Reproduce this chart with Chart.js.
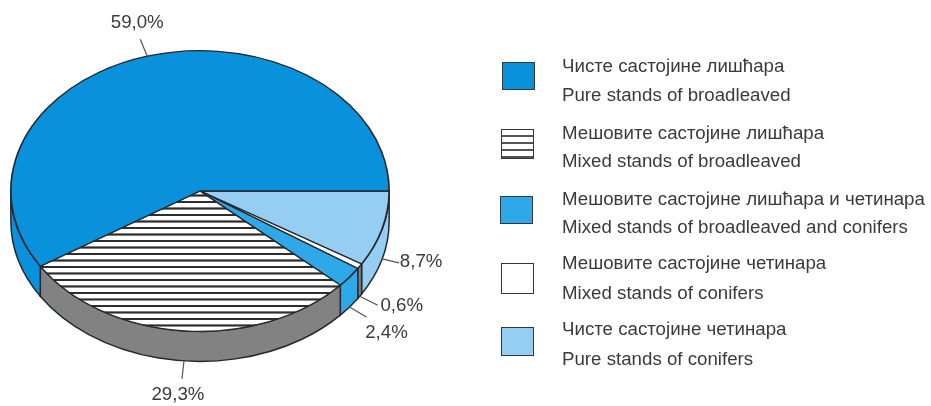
<!DOCTYPE html>
<html lang="sr">
  <head>
    <meta charset="UTF-8" />
    <title>Pure and mixed stands</title>
    <script src="https://cdn.jsdelivr.net/npm/chart.js"></script>
    <style>
      body {
        margin: 0;
        background: #fff;
        overflow: hidden;
      }
      #wrap {
        position: relative;
        width: 931px;
        height: 406px;
        font-family: "Liberation Sans", Arial, sans-serif;
        color: #3a3a3a;
      }
      #pie {
        position: absolute;
        left: 0;
        top: 0;
      }
      .swatch {
        position: absolute;
        box-sizing: border-box;
        width: 33px;
        border: 1.5px solid #2b3a44;
      }
      .line {
        position: absolute;
        left: 562px;
        font-size: 18.7px;
        line-height: 20px;
        white-space: nowrap;
      }
    </style>
  </head>
  <body>
    <div id="wrap">
      <canvas id="pie" width="931" height="406"></canvas>
      <div id="legend"></div>
    </div>

    <script>
      const namesSr = [
        "Чисте састојине лишћара",
        "Мешовите састојине лишћара",
        "Мешовите састојине лишћара и четинара",
        "Мешовите састојине четинара",
        "Чисте састојине четинара",
      ];
      const namesEn = [
        "Pure stands of broadleaved",
        "Mixed stands of broadleaved",
        "Mixed stands of broadleaved and conifers",
        "Mixed stands of conifers",
        "Pure stands of conifers",
      ];
      const shares = [59.0, 29.3, 2.4, 0.6, 8.7];

      const topColors = ["#0a91dc", "hatch", "#2ea8e6", "#ffffff", "#95cdf3"];
      const wallColors = ["#0a91dc", "#828282", "#2ea8e6", "#828282", "#95cdf3"];

      // label layout relative to the rim point of each slice: leader end, text centre
      const leaderEnd = [[-7, -17], [-2, 18], [17, 10], [18, 9], [17, 4]];
      const labelAt = [[-10, -33], [-6, 34], [37, 26], [42, 10], [39, 3]];

      // legend rows, y of swatch top, swatch height, y of both text lines
      const swatchLeft = [502, 501, 500, 501, 501];
      const swatchTop = [62, 129, 196, 263, 327];
      const swatchHeight = [28, 30, 28, 31, 29];
      const textTop = [[56, 85], [123, 151], [189, 217], [253, 283], [319, 349]];

      const tiltY = 141 / 190;
      const depth = 30;

      function hatchPattern() {
        const tile = document.createElement("canvas");
        tile.width = 8;
        tile.height = 9;
        const c = tile.getContext("2d");
        c.fillStyle = "#fff";
        c.fillRect(0, 0, 8, 9);
        c.fillStyle = "#2e2e2e";
        c.fillRect(0, 3, 8, 3);
        const p = c.createPattern(tile, "repeat");
        p.setTransform(new DOMMatrix().scale(1, 0.973));
        return p;
      }
      const hatch = hatchPattern();

      // chart.js goes clockwise from the start angle, the picture runs the other way
      const drawOrder = shares.map((_, i) => shares.length - 1 - i);

      const tiltedPie = {
        id: "tiltedPie",
        beforeDatasetsDraw(chart) {
          const ctx = chart.ctx;
          const arcs = chart.getDatasetMeta(0).data;
          const cx = arcs[0].x;
          const cy = arcs[0].y;
          const rx = arcs[0].outerRadius;
          const ry = rx * tiltY;

          // side wall of the disc, only the part facing the viewer
          arcs.forEach((arc, n) => {
            const a0 = Math.max(arc.startAngle, 0);
            const a1 = Math.min(arc.endAngle, Math.PI);
            if (a1 <= a0) return;
            ctx.beginPath();
            ctx.ellipse(cx, cy, rx, ry, 0, a0, a1);
            ctx.ellipse(cx, cy + depth, rx, ry, 0, a1, a0, true);
            ctx.closePath();
            ctx.fillStyle = wallColors[drawOrder[n]];
            ctx.fill();
            ctx.strokeStyle = "#23292e";
            ctx.lineWidth = 1.5;
            ctx.stroke();
          });

          ctx.save();
          ctx.translate(cx, cy);
          ctx.scale(1, tiltY);
          ctx.translate(-cx, -cy);
        },
        afterDatasetsDraw(chart) {
          const ctx = chart.ctx;
          ctx.restore();

          const arcs = chart.getDatasetMeta(0).data;
          ctx.font = '18.7px "Liberation Sans", Arial, sans-serif';
          ctx.textAlign = "center";
          ctx.textBaseline = "middle";
          arcs.forEach((arc, n) => {
            const i = drawOrder[n];
            const mid = (arc.startAngle + arc.endAngle) / 2;
            const sin = Math.sin(mid);
            const px = arc.x + arc.outerRadius * Math.cos(mid);
            const py = arc.y + arc.outerRadius * tiltY * sin + (sin > 0 ? depth : 0);
            ctx.beginPath();
            ctx.moveTo(px, py);
            ctx.lineTo(px + leaderEnd[i][0], py + leaderEnd[i][1]);
            ctx.strokeStyle = "#555";
            ctx.lineWidth = 1.2;
            ctx.stroke();
            ctx.fillStyle = "#3a3a3a";
            const label = shares[i].toFixed(1).replace(".", ",") + "%";
            ctx.fillText(label, px + labelAt[i][0], py + labelAt[i][1]);
          });
        },
      };

      new Chart(document.getElementById("pie"), {
        type: "pie",
        data: {
          labels: drawOrder.map((i) => namesEn[i]),
          datasets: [
            {
              data: drawOrder.map((i) => shares[i]),
              backgroundColor: drawOrder.map((i) =>
                topColors[i] === "hatch" ? hatch : topColors[i]
              ),
              borderColor: "#23292e",
              borderWidth: 1.7,
              hoverOffset: 0,
              clip: false,
            },
          ],
        },
        options: {
          responsive: false,
          animation: false,
          rotation: 90,
          layout: { padding: { left: 10, right: 541, top: 1, bottom: 25 } },
          plugins: {
            legend: { display: false },
            tooltip: { enabled: false },
          },
        },
        plugins: [tiltedPie],
      });

      // Legend
      const legend = document.getElementById("legend");
      namesSr.forEach((name, i) => {
        const box = document.createElement("div");
        box.className = "swatch";
        box.style.left = swatchLeft[i] + "px";
        box.style.top = swatchTop[i] + "px";
        box.style.height = swatchHeight[i] + "px";
        if (topColors[i] === "hatch") {
          box.style.background =
            "repeating-linear-gradient(#fff 0 5px, #555 5px 7px)";
        } else {
          box.style.background = topColors[i];
        }
        legend.appendChild(box);

        [name, namesEn[i]].forEach((text, k) => {
          const line = document.createElement("div");
          line.className = "line";
          line.style.top = textTop[i][k] + "px";
          line.textContent = text;
          legend.appendChild(line);
        });
      });
    </script>
  </body>
</html>
